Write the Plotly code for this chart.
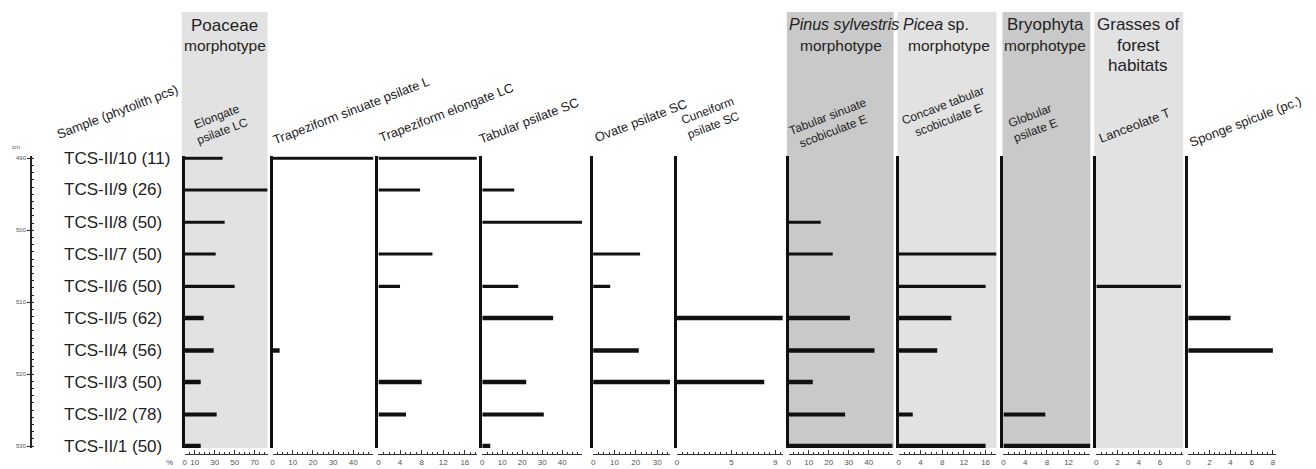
import plotly.graph_objects as go

W, H = 1316, 469

# ---------------- data ----------------
samples = ["TCS-II/10 (11)", "TCS-II/9 (26)", "TCS-II/8 (50)", "TCS-II/7 (50)", "TCS-II/6 (50)",
           "TCS-II/5 (62)", "TCS-II/4 (56)", "TCS-II/3 (50)", "TCS-II/2 (78)", "TCS-II/1 (50)"]
depth_cm = [490.0, 494.4, 498.9, 503.3, 507.8, 512.2, 516.7, 521.1, 525.6, 530.0]
depth_ticks = [490, 500, 510, 520, 530]

elongate_psilate_lc = [38, 83, 40, 31, 50, 19, 29, 16, 32, 16]
trapeziform_sinuate_psilate_l = [50, 0, 0, 0, 0, 0, 3.5, 0, 0, 0]
trapeziform_elongate_lc = [18.2, 7.7, 0, 10, 4, 0, 0, 8, 5.1, 0]
tabular_psilate_sc = [0, 16, 50, 0, 18, 35.5, 0, 22, 30.8, 4]
ovate_psilate_sc = [0, 0, 0, 22, 8, 0, 21.4, 36, 0, 0]
cuneiform_psilate_sc = [0, 0, 0, 0, 0, 9.7, 0, 8, 0, 0]
tabular_sinuate_scobiculate_e = [0, 0, 16, 22, 0, 30.6, 42.9, 12, 28.2, 52]
concave_tabular_scobiculate_e = [0, 0, 0, 18, 16, 9.7, 7.1, 0, 2.6, 16]
globular_psilate_e = [0, 0, 0, 0, 0, 0, 0, 0, 7.7, 16]
lanceolate_t = [0, 0, 0, 0, 8, 0, 0, 0, 0, 0]
sponge_spicule = [0, 0, 0, 0, 0, 4, 8, 0, 0, 0]

series = [elongate_psilate_lc, trapeziform_sinuate_psilate_l, trapeziform_elongate_lc,
          tabular_psilate_sc, ovate_psilate_sc, cuneiform_psilate_sc,
          tabular_sinuate_scobiculate_e, concave_tabular_scobiculate_e,
          globular_psilate_e, lanceolate_t, sponge_spicule]

tick_labels = [[0, 10, 30, 50, 70], [0, 10, 20, 30, 40], [0, 4, 8, 12, 16], [0, 10, 20, 30, 40],
               [0, 10, 20, 30], [0, 5, 9], [0, 10, 20, 30, 40], [0, 4, 8, 12, 16],
               [0, 4, 8, 12], [0, 2, 4, 6], [0, 2, 4, 6, 8]]

column_titles = ["Elongate<br>psilate LC", "Trapeziform sinuate psilate L", "Trapeziform elongate LC",
                 "Tabular psilate SC", "Ovate psilate SC", "Cuneiform<br>psilate SC",
                 "Tabular sinuate<br>scobiculate E", "Concave tabular<br>scobiculate E",
                 "Globular<br>psilate E", "Lanceolate T", "Sponge spicule (pc.)"]

# ---------------- layout / style ----------------
FONT = "Liberation Sans, Arial, sans-serif"
panel_px = [(183, 266), (271, 372), (377, 476), (481, 581), (592, 669), (676, 782),
            (788, 892), (898, 996), (1003, 1090), (1096, 1183), (1188, 1276)]
ranges = [83, 50, 18.3, 50, 36, 9.7, 52, 18, 16, 8.2, 8.3]
minor_dt = [5, 2.5, 1, 2.5, 2.5, 0.5, 2.5, 1, 1, 0.5, 0.5]
title_pos = [(218, 124), (350, 110), (445, 112), (528, 120), (640, 120), (710, 118),
             (830, 124), (945, 112), (1033, 123), (1134, 125), (1245, 121)]
thick_px = [3, 3, 3, 3, 3.5, 4.5, 4.5, 4.5, 4, 4.5]

Y_TOP, Y_BOT = 156, 449
PX_PER_CM = (447 - 158) / 40.0
y_range = [530 + 2 / PX_PER_CM, 490 - 2 / PX_PER_CM]
y_dom = [1 - Y_BOT / H, 1 - Y_TOP / H]
x_axis_pos = 1 - 455 / H


def px(x):
    return x / W


def py(y):
    return 1 - y / H


def note(text, x, y, size, angle=0, xanchor="center", yref="paper", yval=None, align="center"):
    return dict(text=text, xref="paper", yref=yref, x=px(x), y=py(y) if yval is None else yval,
                xanchor=xanchor, yanchor="middle", showarrow=False, textangle=angle,
                align=align, font=dict(size=size, color="#222"))


fig = go.Figure()
layout = dict(
    width=W, height=H, margin=dict(l=0, r=0, t=0, b=0),
    paper_bgcolor="white", plot_bgcolor="rgba(0,0,0,0)",
    font=dict(family=FONT, color="#222"), showlegend=False,
    shapes=[], annotations=[],
)

# shaded columns
columns = [(180, 266, "#e2e2e2"), (786, 893, "#c9c9c9"), (897, 996, "#e2e2e2"),
           (1002, 1090, "#c9c9c9"), (1094, 1183, "#e2e2e2")]
for x0, x1, c in columns:
    layout["shapes"].append(dict(type="rect", xref="paper", yref="paper",
                                 x0=px(x0), x1=px(x1), y0=py(449), y1=py(11),
                                 fillcolor=c, line=dict(width=0), layer="below"))

widths = [t / PX_PER_CM for t in thick_px]

for i, vals in enumerate(series):
    n = i + 1
    xa = "x" if n == 1 else f"x{n}"
    ya = "y" if n == 1 else f"y{n}"
    fig.add_trace(go.Bar(x=vals, y=depth_cm, orientation="h", width=widths,
                         marker=dict(color="#111", line=dict(width=0)),
                         xaxis=xa, yaxis=ya, hoverinfo="skip"))
    x0, x1 = panel_px[i]
    layout["xaxis" if n == 1 else f"xaxis{n}"] = dict(
        domain=[px(x0), px(x1)], range=[0, ranges[i]], anchor="free", position=x_axis_pos,
        tickvals=tick_labels[i], ticktext=[str(v) for v in tick_labels[i]],
        ticks="inside", ticklen=4, tickwidth=1, tickcolor="#333",
        showline=True, linecolor="#333", linewidth=1,
        tickfont=dict(size=8, color="#555"),
        minor=dict(ticks="inside", ticklen=2, tickwidth=1, dtick=minor_dt[i], tick0=0, tickcolor="#333"),
        showgrid=False, zeroline=False, fixedrange=True,
    )
    layout["yaxis" if n == 1 else f"yaxis{n}"] = dict(
        domain=y_dom, range=y_range, anchor=xa, showline=True, linewidth=3, linecolor="#111",
        showticklabels=False, ticks="", showgrid=False, zeroline=False, fixedrange=True,
    )
    tx, ty = title_pos[i]
    two = "<br>" in column_titles[i]
    layout["annotations"].append(note(column_titles[i], tx, ty, 12 if two else 13, angle=-21))

# depth axis
n = len(series) + 1
fig.add_trace(go.Scatter(x=[0], y=[510], mode="markers", marker=dict(opacity=0),
                         xaxis=f"x{n}", yaxis=f"y{n}", hoverinfo="skip"))
layout[f"xaxis{n}"] = dict(domain=[px(30), px(34)], visible=False, range=[0, 1], fixedrange=True)
layout[f"yaxis{n}"] = dict(
    domain=y_dom, range=y_range, anchor=f"x{n}", showline=True, linewidth=1.5, linecolor="#222",
    tickvals=depth_ticks, ticktext=[str(v) for v in depth_ticks], ticks="outside", ticklen=3,
    tickcolor="#222", tickfont=dict(size=6, color="#555"),
    minor=dict(ticks="inside", ticklen=2, dtick=1, tick0=490, tickcolor="#222"),
    showgrid=False, zeroline=False, fixedrange=True,
)
cm = note("cm", 14, 147, 6)
cm["font"]["color"] = "#555"
layout["annotations"].append(cm)
pct = note("%", 168, 463, 8)
pct["font"]["color"] = "#555"
layout["annotations"].append(pct)

# sample labels
for s, d in zip(samples, depth_cm):
    layout["annotations"].append(note(s, 60, 0, 17, xanchor="left", yref="y", yval=d))

layout["annotations"].append(note("Sample (phytolith pcs)", 116, 111, 13, angle=-21))

# group headers
headers = [
    ("Poaceae", 223, 25, 17), ("morphotype", 223, 45, 15.5),
    ("<i>Pinus sylvestris</i>", 843, 24, 16), ("morphotype", 840, 45, 15.5),
    ("<i>Picea</i> sp.", 935, 24, 16), ("morphotype", 948, 45, 15.5),
    ("Bryophyta", 1045, 24, 17), ("morphotype", 1045, 45, 15.5),
    ("Grasses of", 1138, 24, 17), ("forest", 1138, 45, 17), ("habitats", 1138, 65, 17),
]
for t, x, y, s in headers:
    layout["annotations"].append(note(t, x, y, s))

fig.update_layout(**layout)
fig.write_html("out.html", config={"displayModeBar": False},
               post_script="document.body.style.margin='0';document.body.style.overflow='hidden';")
